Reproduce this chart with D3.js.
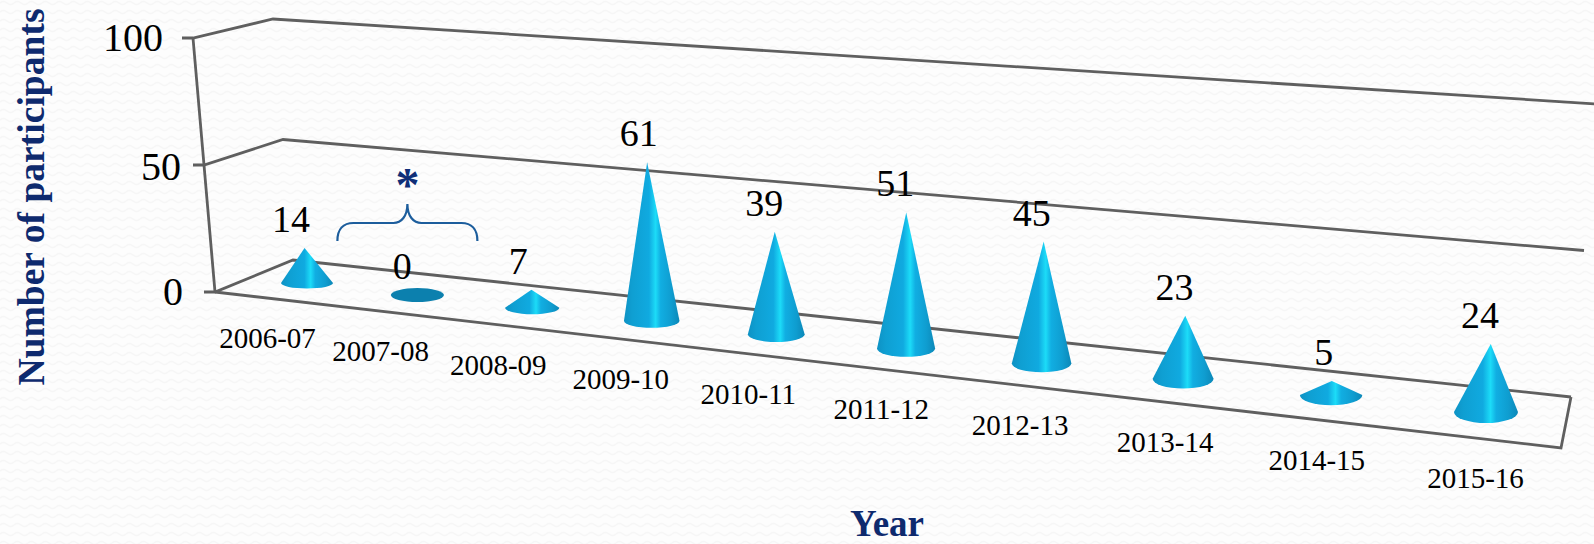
<!DOCTYPE html>
<html><head><meta charset="utf-8">
<script src="https://cdn.jsdelivr.net/npm/d3@7/dist/d3.min.js"></script>
<style>html,body{margin:0;padding:0;background:#fdfdfd;overflow:hidden}svg{display:block}text{font-family:"Liberation Serif",serif}</style>
</head><body><svg id="c" width="1594" height="544"></svg>
<script>
const categories=["2006-07","2007-08","2008-09","2009-10","2010-11","2011-12","2012-13","2013-14","2014-15","2015-16"];
const participants=[14,0,7,61,39,51,45,23,5,24];
const yTicks=[0,50,100];
const xTitle="Year", yTitle="Number of participants";

const svg=d3.select("#c");
const defs=svg.append("defs");
const pat=defs.append("pattern").attr("id","bg").attr("width",14).attr("height",9).attr("patternUnits","userSpaceOnUse");
pat.append("rect").attr("width",14).attr("height",9).attr("fill","#fdfdfd");
pat.append("path").attr("d","M0 3 Q3.5 0 7 3 T14 3").attr("fill","none").attr("stroke","#f6f6f6").attr("stroke-width",1.4);
svg.append("rect").attr("width",1594).attr("height",544).attr("fill","url(#bg)");

const grad=defs.append("linearGradient").attr("id","cone").attr("x1",0).attr("x2",1).attr("y1",0).attr("y2",0);
[[0,"#0e92c4"],[.15,"#0f9fd2"],[.45,"#10aae0"],[.57,"#1cdcf8"],[.66,"#11aee2"],[.85,"#0f9dd0"],[1,"#0c88b8"]].forEach(s=>grad.append("stop").attr("offset",s[0]).attr("stop-color",s[1]));

// perspective depth along the category axis
const idx=d3.scalePoint().domain(categories).range([0,1]);
const persp=t=>t/(t+1.21*(1-t));
const xBase=d3.scaleLinear().domain([0,1]).range([307,1486]);
const yBase=d3.scaleLinear().domain([0,1]).range([283,412]);
const unit=d3.scaleLinear().domain([0,1]).range([2.5,2.83]);
const widthS=d3.scaleLinear().domain([0,1]).range([52,64]);
const ryS=d3.scaleLinear().domain([0,1]).range([5.5,11]);

// wall edges
const frontX=d3.scaleLinear().domain([0,100]).range([215,193]);
const frontY=d3.scaleLinear().domain([0,100]).range([292,38]);
const backLX=d3.scaleLinear().domain([0,100]).range([293,273]);
const backLY=d3.scaleLinear().domain([0,100]).range([260,19]);
const backRX=d3.scaleLinear().domain([0,100]).range([1571,1597]);
const backRY=d3.scaleLinear().domain([0,100]).range([397,104]);
const tickLabelGap=d3.scaleOrdinal().domain(yTicks).range([32,23,30]);
const line=d3.line();
function drawLine(pts){svg.append("path").attr("d",line(pts)).attr("fill","none").attr("stroke","#5f5f5f").attr("stroke-width",2.8).attr("stroke-linejoin","miter");}

drawLine([[frontX(100),frontY(100)],[frontX(0),frontY(0)]]);
yTicks.forEach(v=>{
  drawLine([[frontX(v)-11,frontY(v)],[frontX(v),frontY(v)],[backLX(v),backLY(v)],[backRX(v),backRY(v)]]);
  svg.append("text").attr("x",frontX(v)-tickLabelGap(v)).attr("y",frontY(v)+13+(v===50?2:0)).attr("text-anchor","end").attr("font-size",40).attr("fill","#000").text(v);
});
// floor
drawLine([[frontX(0),frontY(0)],[1561,448],[backRX(0),backRY(0)]]);

// cones
categories.forEach((c,i)=>{
  const v=participants[i],u=persp(idx(c));
  const cx=xBase(u),cy=yBase(u),w=widthS(u)/2,ry=ryS(u),h=v*unit(u);
  if(v===0){
    svg.append("ellipse").attr("cx",cx).attr("cy",cy).attr("rx",w).attr("ry",7).attr("fill","#0c80ae");
  }else{
    const ax=cx+h*0.14*(u-.5);
    svg.append("path").attr("d",`M${ax} ${cy-h}L${cx-w} ${cy}A${w} ${ry} 0 0 0 ${cx+w} ${cy}Z`).attr("fill","url(#cone)");
  }
  svg.append("text").attr("x",cx-16+10*u).attr("y",cy-h-16).attr("text-anchor","middle").attr("font-size",38).attr("fill","#000").text(v);
  svg.append("text").attr("x",cx-39.5+29*u).attr("y",cy+65+11*u).attr("text-anchor","middle").attr("font-size",29).attr("fill","#000").text(c);
});

// annotation
const bx=xBase(persp(idx("2007-08")))-10;
svg.append("path").attr("d",`M${bx-70} 241C${bx-70} 229 ${bx-64} 223 ${bx-54} 223L${bx-14} 223C${bx-6} 223 ${bx} 216 ${bx} 204C${bx} 216 ${bx+6} 223 ${bx+14} 223L${bx+54} 223C${bx+64} 223 ${bx+70} 229 ${bx+70} 241`).attr("fill","none").attr("stroke","#1c5d9c").attr("stroke-width",2.2);
svg.append("text").attr("x",bx).attr("y",201).attr("text-anchor","middle").attr("font-size",48).attr("font-weight","bold").attr("fill","#0f2f78").text("*");

// titles
svg.append("text").attr("x",887).attr("y",536).attr("text-anchor","middle").attr("font-size",37).attr("font-weight","bold").attr("fill","#0e2a6e").text(xTitle);
svg.append("text").attr("transform","translate(44,197) rotate(-90)").attr("text-anchor","middle").attr("font-size",37.6).attr("font-weight","bold").attr("fill","#0e2a6e").text(yTitle);
</script></body></html>
